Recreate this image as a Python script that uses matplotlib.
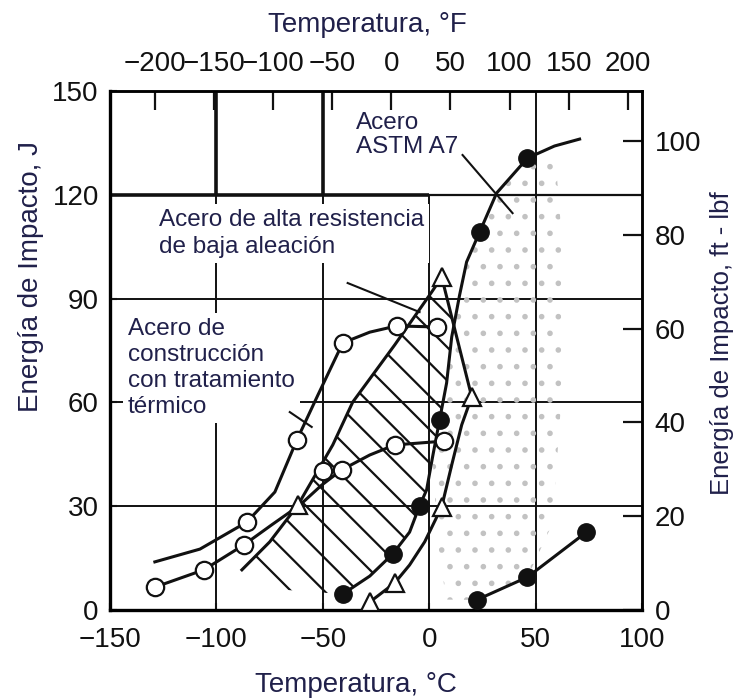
import matplotlib.pyplot as plt
import numpy as np

plt.rcParams['font.family'] = ['Liberation Sans', 'DejaVu Sans']
plt.rcParams['hatch.linewidth'] = 1.6

# --- data (temperature in C, energy in J) ---

# ASTM A7 steel, filled circles: upper curve of the band
a7_up_t = [-42.0, -40.6, -27.9, -17.1, -9.2, -4.5, -1.2, 1.6, 4.9, 8.2, 10.6, 14.3, 17.6, 23.7, 31.7, 46.2, 58.9, 70.7]
a7_up_e = [3.5, 4.6, 9.8, 16.2, 22.5, 30.1, 34.7, 44.2, 54.9, 65.6, 78.9, 91.0, 100.6, 109.2, 120.5, 130.6, 134.1, 136.1]
a7_pts_t = [-40.6, -17.1, -4.5, 4.9, 23.7, 46.2]
a7_pts_e = [4.6, 16.2, 30.1, 54.9, 109.2, 130.6]
# ASTM A7 lower curve
a7_low_t = [22.3, 46.2, 73.9]
a7_low_e = [2.9, 9.5, 22.5]
# stippled zone of ASTM A7
dots_t = [1.6, 4.9, 8.2, 10.6, 14.3, 17.6, 23.7, 31.7, 46.2, 58.9, 62.0, 62.0, 58.0, 46.2, 22.3, 8.0, 4.0]
dots_e = [44.2, 54.9, 65.6, 78.9, 91.0, 100.6, 109.2, 120.5, 130.6, 134.1, 110.0, 60.0, 25.0, 9.5, 2.9, 3.0, 20.0]

# high strength low alloy steel, triangles
hsla_up_t = [-88.0, -74.9, -61.7, -45.3, -35.9, -16.2, 1.2, 5.9]
hsla_up_e = [11.6, 19.7, 30.3, 47.7, 60.1, 76.6, 91.9, 96.2]
hsla_low_t = [5.9, 20.0, 15.3, 10.6, 5.9, -2.1, -9.2, -16.2, -27.9]
hsla_low_e = [96.2, 61.6, 53.5, 41.9, 29.8, 19.7, 13.0, 7.8, 2.3]
hsla_pts_t = [-61.7, 5.9, 20.0, 5.9, -16.2, -27.9]
hsla_pts_e = [30.3, 96.2, 61.6, 29.8, 7.8, 2.3]
# hatched zone outline
hatch_t = hsla_up_t + [11.6, 10.6, 8.2, 4.9, 1.6, -1.2, -4.5, -9.2, -17.1, -27.9, -40.6, -60.8, -79.6]
hatch_e = hsla_up_e + [82.2, 78.9, 65.6, 54.9, 44.2, 34.7, 30.1, 22.5, 16.2, 9.8, 4.6, 5.5, 6.4]

# heat treated construction steel, open circles
ht_up_t = [-128.9, -107.7, -85.7, -72.5, -62.2, -52.3, -40.6, -27.9, -15.3, 3.5]
ht_up_e = [13.9, 17.6, 25.4, 34.1, 49.1, 62.1, 77.2, 80.3, 82.1, 81.8]
ht_up_pts_t = [-85.7, -62.2, -40.6, -15.3, 3.5]
ht_up_pts_e = [25.4, 49.1, 77.2, 82.1, 81.8]
ht_low_t = [-128.9, -105.9, -87.1, -74.0, -60.8, -50.5, -41.1, -27.9, -16.2, 6.8]
ht_low_e = [6.6, 11.6, 18.8, 24.6, 30.3, 36.1, 40.5, 44.8, 47.7, 48.8]
ht_low_pts_t = [-128.9, -105.9, -87.1, -50.0, -41.1, -16.2, 6.8]
ht_low_pts_e = [6.6, 11.6, 18.8, 40.2, 40.5, 47.7, 48.8]

# leader lines of the labels
lead_a7 = ([15.7, 39.2], [131.5, 114.7])
lead_hsla = ([-38.3, -4.5], [94.5, 86.1])
lead_ht = ([-65.5, -55.2], [57.2, 52.9])

x_ticks = [-150, -100, -50, 0, 50, 100]
y_ticks = [0, 30, 60, 90, 120, 150]
f_ticks = [-200, -150, -100, -50, 0, 50, 100, 150, 200]
ft_ticks = [0, 20, 40, 60, 80, 100]

ink = '#111111'
txt = '#20204a'

fig = plt.figure(figsize=(7.4, 7.0), dpi=100)
ax = fig.add_axes([0.1486, 0.1286, 0.7189, 0.7414])
ax.set_xlim(-150, 100)
ax.set_ylim(0, 150)

# grid (partly heavy, as in the printed chart)
ax.hlines([30, 60, 90], -150, 100, color=ink, lw=1.4, zorder=1)
ax.hlines(120, -150, 0, color=ink, lw=2.6, zorder=1)
ax.hlines(120, 0, 100, color=ink, lw=1.6, zorder=1)
ax.vlines([-100, -50], 120, 150, color=ink, lw=2.6, zorder=1)
ax.vlines([-100, -50, 0], 0, 120, color=ink, lw=1.4, zorder=1)
ax.vlines(50, 0, 150, color=ink, lw=1.4, zorder=1)

# zones
ax.fill(dots_t, dots_e, facecolor='none', edgecolor='#c2c2c2', hatch='.', lw=0, zorder=2)
ax.fill(hatch_t, hatch_e, facecolor='none', edgecolor=ink, hatch='\\', lw=0, zorder=2)

# curves
for t, e in [(a7_up_t, a7_up_e), (a7_low_t, a7_low_e), (hsla_up_t, hsla_up_e),
             (hsla_low_t, hsla_low_e), (ht_up_t, ht_up_e), (ht_low_t, ht_low_e)]:
    ax.plot(t, e, color=ink, lw=2.2, zorder=3)
for t, e in [lead_a7, lead_hsla, lead_ht]:
    ax.plot(t, e, color=ink, lw=1.5, zorder=3)

# markers
ax.plot(a7_pts_t, a7_pts_e, 'o', ms=12.5, color=ink, zorder=4)
ax.plot(a7_low_t, a7_low_e, 'o', ms=12.5, color=ink, zorder=4)
ax.plot(hsla_pts_t, hsla_pts_e, '^', ms=13, mfc='white', mec=ink, mew=1.6, zorder=4)
ax.plot(ht_up_pts_t, ht_up_pts_e, 'o', ms=12.5, mfc='white', mec=ink, mew=1.6, zorder=4)
ax.plot(ht_low_pts_t, ht_low_pts_e, 'o', ms=12.5, mfc='white', mec=ink, mew=1.6, zorder=4)

# labels inside the plot
box = dict(boxstyle='square,pad=0.2', fc='white', ec='none')
ax.text(-34.5, 144.0, 'Acero\nASTM A7', fontsize=17.5, color=txt, va='top', ha='left',
        linespacing=1.15, zorder=5)
ax.text(-127.0, 115.8, 'Acero de alta resistencia\nde baja aleación', fontsize=17.5, color=txt,
        va='top', ha='left', linespacing=1.3, bbox=box, zorder=2.5)
ax.text(-141.5, 84.5, 'Acero de\nconstrucción\ncon tratamiento\ntérmico', fontsize=17.5, color=txt,
        va='top', ha='left', linespacing=1.25, bbox=box, zorder=2.5)

# main axes ticks
ax.set_xticks(x_ticks)
ax.set_yticks(y_ticks)
ax.tick_params(axis='both', direction='in', length=5, width=1.5, labelsize=20, colors=ink)
ax.tick_params(axis='x', pad=12)
ax.tick_params(axis='y', pad=8)
for side in ['left', 'bottom']:
    ax.spines[side].set_linewidth(2.4)
for side in ['right', 'top']:
    ax.spines[side].set_linewidth(1.8)

# Fahrenheit scale on top
top = ax.secondary_xaxis('top', functions=(lambda c: c * 9 / 5 + 32, lambda f: (f - 32) * 5 / 9))
top.set_xticks(f_ticks)
top.tick_params(direction='in', length=14, width=1.6, labelsize=20, pad=10, colors=ink)
top.spines['top'].set_linewidth(1.8)

# ft-lbf scale on the right
right = ax.secondary_yaxis('right', functions=(lambda j: j / 1.3558, lambda f: f * 1.3558))
right.set_yticks(ft_ticks)
right.tick_params(direction='in', length=14, width=1.6, labelsize=20, pad=9, colors=ink)
right.spines['right'].set_linewidth(1.8)

fig.text(367 / 740, 1 - 25 / 700, 'Temperatura, °F', fontsize=20, color=txt, ha='center', va='center')
fig.text(356 / 740, 1 - 685 / 700, 'Temperatura, °C', fontsize=20, color=txt, ha='center', va='center')
fig.text(31 / 740, 1 - 277 / 700, 'Energía de Impacto, J', fontsize=20, color=txt,
         rotation=90, ha='center', va='center')
fig.text(722 / 740, 1 - 343 / 700, 'Energía de Impacto, ft - lbf', fontsize=18.5, color=txt,
         rotation=90, ha='center', va='center')

fig.savefig('out.png', dpi=100)
